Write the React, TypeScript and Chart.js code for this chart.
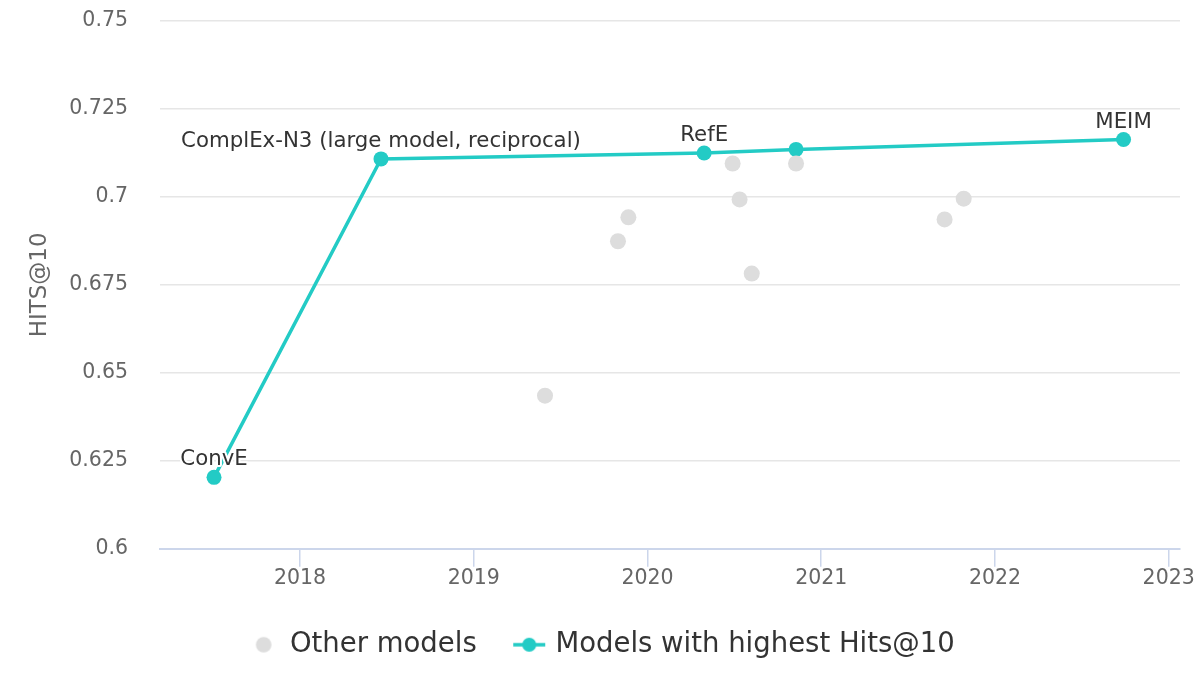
import React, { useEffect, useRef } from "react";
import { Chart, registerables } from "chart.js";

Chart.register(...registerables);

const FONT = "'DejaVu Sans', sans-serif";

// other models: publication year (decimal) and Hits@10
const otherYears = [2019.41, 2019.83, 2019.89, 2020.49, 2020.53, 2020.6, 2020.855, 2021.71, 2021.82];
const otherHits = [0.6435, 0.6874, 0.6942, 0.7095, 0.6993, 0.6782, 0.7095, 0.6936, 0.6995];

// state of the art line
const bestYears = [2017.505, 2018.466, 2020.326, 2020.855, 2022.74];
const bestHits = [0.6203, 0.7108, 0.7125, 0.7135, 0.7163];
const bestNames = ["ConvE", "ComplEx-N3 (large model, reciprocal)", "RefE", "", "MEIM"];

const yearTicks = [2018, 2019, 2020, 2021, 2022, 2023];
const hitsTicks = [0.6, 0.625, 0.65, 0.675, 0.7, 0.725, 0.75];

const TEAL = "#23cbc5";
const GRAY = "#dddddd";

const makeMarker = (withLine: boolean, color: string) => {
  const c = document.createElement("canvas");
  c.width = 34;
  c.height = 18;
  const g = c.getContext("2d");
  if (g) {
    if (withLine) {
      g.strokeStyle = color;
      g.lineWidth = 3.5;
      g.beginPath();
      g.moveTo(1, 9);
      g.lineTo(33, 9);
      g.stroke();
    }
    g.fillStyle = color;
    g.beginPath();
    g.arc(17, 9, withLine ? 7 : 7.8, 0, Math.PI * 2);
    g.fill();
  }
  return c;
};

const pointLabels = {
  id: "pointLabels",
  afterDatasetsDraw(chart: Chart) {
    const meta = chart.getDatasetMeta(1);
    const ctx = chart.ctx;
    ctx.save();
    ctx.font = `21.3px ${FONT}`;
    ctx.textAlign = "center";
    ctx.textBaseline = "middle";
    ctx.lineJoin = "round";
    meta.data.forEach((el, i) => {
      const name = bestNames[i];
      if (!name) return;
      const x = el.x;
      const y = el.y - 17.5;
      ctx.strokeStyle = "#ffffff";
      ctx.lineWidth = 4;
      ctx.strokeText(name, x, y);
      ctx.fillStyle = "#333333";
      ctx.fillText(name, x, y);
    });
    ctx.restore();
  },
};

const App: React.FC = () => {
  const chartRef = useRef<HTMLCanvasElement>(null);
  const chartInstance = useRef<Chart | null>(null);

  useEffect(() => {
    if (!chartRef.current) return;
    if (chartInstance.current) chartInstance.current.destroy();
    const ctx = chartRef.current.getContext("2d");
    if (!ctx) return;

    const markers = [makeMarker(false, GRAY), makeMarker(true, TEAL)];

    chartInstance.current = new Chart(ctx, {
      type: "scatter",
      data: {
        datasets: [
          {
            label: "Other models",
            data: otherYears.map((x, i) => ({ x, y: otherHits[i] })),
            backgroundColor: GRAY,
            borderWidth: 0,
            pointRadius: 8,
            pointHoverRadius: 8,
          },
          {
            label: "Models with highest Hits@10",
            data: bestYears.map((x, i) => ({ x, y: bestHits[i] })),
            showLine: true,
            borderColor: TEAL,
            backgroundColor: TEAL,
            borderWidth: 3.5,
            pointBorderWidth: 0,
            pointRadius: 7.5,
            pointHoverRadius: 7.5,
          },
        ],
      },
      options: {
        responsive: true,
        maintainAspectRatio: false,
        animation: false,
        layout: { padding: { left: 26, right: 20, top: 21, bottom: 31.5 } },
        plugins: {
          tooltip: { enabled: false },
          legend: {
            position: "bottom",
            labels: {
              font: { size: 27.5, family: FONT },
              color: "#333333",
              usePointStyle: true,
              pointStyleWidth: 25,
              boxHeight: 16,
              padding: 40,
              generateLabels: (chart: Chart) =>
                Chart.defaults.plugins.legend.labels
                  .generateLabels(chart)
                  .map((item, i) => ({ ...item, pointStyle: markers[i] })),
            },
          },
        },
        scales: {
          x: {
            type: "linear",
            min: 2017.194,
            max: 2023.065,
            afterBuildTicks: (scale) => {
              scale.ticks = yearTicks.map((value) => ({ value }));
            },
            afterFit: (scale) => {
              scale.height = 42.25;
            },
            grid: {
              drawOnChartArea: false,
              drawTicks: true,
              tickLength: 18,
              color: "#ccd6eb",
              lineWidth: 1.5,
            },
            border: { display: true, color: "#ccd6eb", width: 2 },
            ticks: {
              padding: 0,
              color: "#666666",
              font: { size: 20.5, family: FONT },
              maxRotation: 0,
              callback: (v) => String(v),
            },
          },
          y: {
            min: 0.6,
            max: 0.75,
            afterBuildTicks: (scale) => {
              scale.ticks = hitsTicks.map((value) => ({ value }));
            },
            afterFit: (scale) => {
              scale.width = 134;
            },
            grid: {
              color: "#e6e6e6",
              lineWidth: 1.5,
              drawTicks: true,
              tickLength: 30,
              tickColor: "rgba(0,0,0,0)",
            },
            border: { display: false },
            ticks: {
              padding: 2,
              color: "#666666",
              font: { size: 20.5, family: FONT },
              callback: (v) => String(parseFloat(Number(v).toFixed(3))),
            },
            title: {
              display: true,
              text: "HITS@10",
              color: "#666666",
              font: { size: 23, family: FONT },
              padding: { top: 0, bottom: 0 },
            },
          },
        },
      },
      plugins: [pointLabels],
    });

    return () => {
      if (chartInstance.current) {
        chartInstance.current.destroy();
        chartInstance.current = null;
      }
    };
  }, []);

  return (
    <div
      style={{
        position: "fixed",
        left: 0,
        top: 0,
        width: 1200,
        height: 700,
        background: "#ffffff",
      }}
    >
      <canvas ref={chartRef}></canvas>
    </div>
  );
};

export default App;
